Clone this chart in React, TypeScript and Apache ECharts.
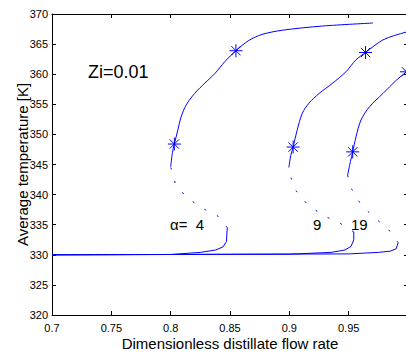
import React, { useEffect, useRef } from "react";
import * as echarts from "echarts";

// Lower stable branches (x, T)
const lower4: number[][] = [[0.7, 330], [0.8, 330.05], [0.825, 330.4], [0.838, 330.8], [0.844, 331.3], [0.847, 332.2], [0.8477, 334.5]];
const lower9: number[][] = [[0.7, 330], [0.9, 330.1], [0.935, 330.4], [0.947, 330.8], [0.952, 331.4], [0.9543, 332.5], [0.9543, 333.8]];
const lower19: number[][] = [[0.7, 330], [0.95, 330.15], [0.975, 330.4], [0.985, 330.6], [0.99, 331.0], [0.9917, 332.0]];

// Unstable (dotted) branches
const unstable4: number[][] = [[0.8477, 334.5], [0.84, 336.4], [0.826, 337.8], [0.813, 339.6], [0.804, 341.8], [0.8, 344.6]];
const unstable9: number[][] = [[0.9543, 333.8], [0.9423, 335.3], [0.9279, 336.6], [0.9151, 338.4], [0.905, 340.8], [0.9007, 343.2], [0.8996, 344.5]];
const unstable19: number[][] = [[0.9917, 332.0], [0.9832, 334.3], [0.9704, 336.4], [0.9602, 338.4], [0.9526, 340.9], [0.9491, 343.2]];

// Upper stable branches
const upper4: number[][] = [[0.8, 344.6], [0.8015, 347], [0.8031, 348.4], [0.806, 350.7], [0.8088, 352.9], [0.8131, 354.9], [0.8202, 356.8], [0.8287, 358.5], [0.8372, 360.1], [0.8457, 362.1], [0.855, 363.9], [0.8658, 365.6], [0.8769, 366.6], [0.8939, 367.3], [0.9279, 368.0], [0.9704, 368.5]];
const upper9: number[][] = [[0.8996, 344.5], [0.9012, 346.5], [0.9032, 347.9], [0.9066, 350.7], [0.9109, 353.5], [0.9166, 355.2], [0.9251, 356.8], [0.9364, 358.5], [0.9477, 360.4], [0.9562, 362.4], [0.9642, 363.6], [0.9789, 365.7], [0.9985, 367.0], [1.01, 367.5]];
const upper19: number[][] = [[0.9491, 343.2], [0.9515, 345.5], [0.9534, 347.1], [0.9562, 349.6], [0.9604, 352.4], [0.9676, 354.6], [0.9789, 356.8], [0.9902, 359.0], [0.9987, 360.4], [1.01, 362]];

// Marked points (asterisks)
const stars: number[][] = [[0.8031, 348.4], [0.855, 363.9], [0.9032, 347.9], [0.9642, 363.6], [0.9534, 347.1], [0.9987, 360.4]];

const xTicks = { min: 0.7, max: 1.0, interval: 0.05 };
const yTicks = { min: 320, max: 370, interval: 5 };

const BLUE = "#0000ff";
const FONT = "Liberation Sans, Arial, sans-serif";

export default function App() {
  const ref = useRef<HTMLDivElement>(null);
  useEffect(() => {
    if (!ref.current) return;
    const chart = echarts.init(ref.current, null, { renderer: "svg" });
    const solid = (data: number[][], smooth = 0) => ({
      type: "line",
      data,
      showSymbol: false,
      symbol: "none",
      smooth,
      lineStyle: { color: BLUE, width: 1 },
      clip: true,
      z: 3,
    });
    const dotted = (data: number[][]) => ({
      type: "line",
      data,
      showSymbol: false,
      symbol: "none",
      lineStyle: { color: BLUE, width: 1, type: [2, 12] },
      clip: true,
      z: 3,
    });
    const axisCommon = {
      axisLine: { show: true, onZero: false, lineStyle: { color: "#000", width: 1 } },
      axisTick: { show: true, inside: true, length: 4, lineStyle: { color: "#000" } },
      splitLine: { show: false },
    };
    chart.setOption({
      animation: false,
      backgroundColor: "#fff",
      grid: { left: 52, top: 14, width: 356, height: 301, containLabel: false, outerBoundsMode: "none" },
      xAxis: [
        {
          type: "value",
          ...xTicks,
          position: "bottom",
          ...axisCommon,
          axisLabel: { color: "#000", fontSize: 11, fontFamily: FONT, margin: 7, showMaxLabel: false, formatter: (v: number) => String(+v.toFixed(2)) },
          name: "Dimensionless distillate flow rate",
          nameLocation: "middle",
          nameGap: 21,
          nameMoveOverlap: false,
          nameTextStyle: { color: "#000", fontSize: 15, fontFamily: FONT },
        },
        {
          type: "value",
          ...xTicks,
          position: "top",
          ...axisCommon,
          axisLabel: { show: false },
        },
      ],
      yAxis: [
        {
          type: "value",
          ...yTicks,
          position: "left",
          ...axisCommon,
          axisLabel: { color: "#000", fontSize: 11, fontFamily: FONT, margin: 4 },
          name: "Average temperature [K]",
          nameLocation: "middle",
          nameGap: 22,
          nameMoveOverlap: false,
          nameTextStyle: { color: "#000", fontSize: 15, fontFamily: FONT },
        },
        {
          type: "value",
          ...yTicks,
          position: "right",
          ...axisCommon,
          axisLabel: { show: false },
        },
      ],
      series: [
        solid(lower4), solid(lower9), solid(lower19),
        dotted(unstable4), dotted(unstable9), dotted(unstable19),
        solid(upper4, 0.3), solid(upper9, 0.3), solid(upper19, 0.3),
        {
          type: "scatter",
          data: stars,
          symbol: "path://M7,0L7,14M0,7L14,7M2,2L12,12M2,12L12,2",
          symbolSize: 13,
          itemStyle: { color: "none", borderColor: BLUE, borderWidth: 1, opacity: 1 },
          z: 4,
        },
      ],
      graphic: [
        { type: "text", left: 88, top: 63, style: { text: "Zi=0.01", fontSize: 18, fontFamily: FONT, fill: "#000" } },
        { type: "text", left: 170, top: 217, style: { text: "α=  4", fontSize: 15, fontFamily: FONT, fill: "#000" } },
        { type: "text", left: 313, top: 217, style: { text: "9", fontSize: 15, fontFamily: FONT, fill: "#000" } },
        { type: "text", left: 351, top: 217, style: { text: "19", fontSize: 15, fontFamily: FONT, fill: "#000" } },
      ],
    });
    return () => chart.dispose();
  }, []);
  return <div ref={ref} style={{ position: "fixed", left: 0, top: 0, width: 406, height: 358 }} />;
}
